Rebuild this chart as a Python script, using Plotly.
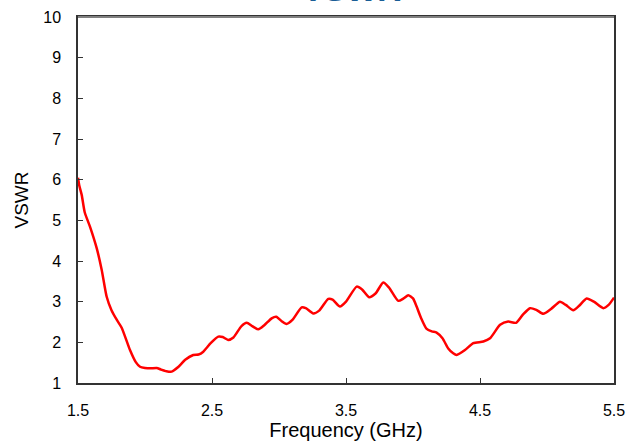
import plotly.graph_objects as go

freq_ghz = [1.50, 1.51, 1.528, 1.55, 1.59, 1.64, 1.677, 1.714, 1.75, 1.79, 1.826, 1.888, 1.93, 1.963,
            2.00, 2.04, 2.087, 2.12, 2.16, 2.199, 2.25, 2.30, 2.36, 2.40, 2.435, 2.49, 2.547, 2.58,
            2.62, 2.66, 2.72, 2.759, 2.80, 2.846, 2.89, 2.945, 2.98, 3.02, 3.056, 3.10, 3.169, 3.20,
            3.256, 3.30, 3.368, 3.40, 3.455, 3.50, 3.58, 3.62, 3.672, 3.72, 3.778, 3.82, 3.89, 3.93,
            3.965, 4.00, 4.027, 4.06, 4.10, 4.14, 4.176, 4.22, 4.263, 4.30, 4.326, 4.388, 4.45, 4.525,
            4.575, 4.65, 4.71, 4.769, 4.82, 4.873, 4.92, 4.972, 5.03, 5.097, 5.14, 5.196, 5.24, 5.296,
            5.35, 5.42, 5.46, 5.50]
vswr = [6.05, 5.85, 5.62, 5.20, 4.84, 4.31, 3.78, 3.12, 2.79, 2.55, 2.36, 1.81, 1.52, 1.40,
        1.37, 1.36, 1.37, 1.33, 1.29, 1.28, 1.40, 1.57, 1.69, 1.70, 1.77, 1.98, 2.14, 2.13,
        2.06, 2.12, 2.40, 2.48, 2.40, 2.32, 2.42, 2.59, 2.63, 2.52, 2.45, 2.55, 2.86, 2.84,
        2.71, 2.78, 3.07, 3.05, 2.88, 3.00, 3.37, 3.30, 3.11, 3.20, 3.47, 3.35, 3.02, 3.08,
        3.16, 3.08, 2.88, 2.60, 2.34, 2.27, 2.24, 2.10, 1.85, 1.73, 1.69, 1.81, 1.98, 2.02,
        2.10, 2.43, 2.51, 2.48, 2.68, 2.84, 2.80, 2.70, 2.82, 3.00, 2.92, 2.79, 2.90, 3.08,
        3.00, 2.84, 2.92, 3.10]

x_ticks = [1.5, 2.5, 3.5, 4.5, 5.5]
y_ticks = [1, 2, 3, 4, 5, 6, 7, 8, 9, 10]

font_family = "Liberation Sans, Arial, sans-serif"

fig = go.Figure()
fig.add_trace(go.Scatter(x=freq_ghz, y=vswr, mode="lines",
                         line=dict(color="#FF0000", width=2.5, shape="spline", smoothing=0.6),
                         showlegend=False, cliponaxis=False))

fig.update_layout(
    width=635, height=441,
    margin=dict(l=78, r=21, t=17, b=58, autoexpand=False),
    paper_bgcolor="white", plot_bgcolor="white",
    font=dict(family=font_family, color="black"),
    annotations=[dict(text="<b>VSWR</b>", xref="paper", yref="paper", x=0.51, y=1.075,
                      xanchor="center", yanchor="middle", showarrow=False,
                      font=dict(size=33, color="#1A5E96", family=font_family))],
    shapes=[dict(type="line", xref="paper", yref="paper", x0=0, x1=1, y0=1, y1=1,
                 line=dict(color="#808080", width=2))],
)
fig.update_xaxes(range=[1.5, 5.5], tickvals=x_ticks, ticktext=[str(v) for v in x_ticks],
                 ticks="inside", ticklen=5, tickcolor="#333333", automargin=False,
                 showline=True, linecolor="#333333", linewidth=1.5, mirror=True,
                 showgrid=False, zeroline=False, tickfont=dict(size=16), ticklabelstandoff=12,
                 title=dict(text="Frequency (GHz)", font=dict(size=20), standoff=3))
fig.update_yaxes(range=[1, 10], tickvals=y_ticks, ticks="inside", ticklen=5, tickcolor="#333333",
                 automargin=False,
                 showline=True, linecolor="#333333", linewidth=1.5, mirror=True,
                 showgrid=False, zeroline=False, tickfont=dict(size=16), ticklabelstandoff=12,
                 title=dict(text="VSWR", font=dict(size=19), standoff=10))

# remove the browser's default 8px page margin so the figure sits at the window's corner
fig.write_html("out.html", config={"displayModeBar": False},
               post_script="document.body.style.margin='0';")
